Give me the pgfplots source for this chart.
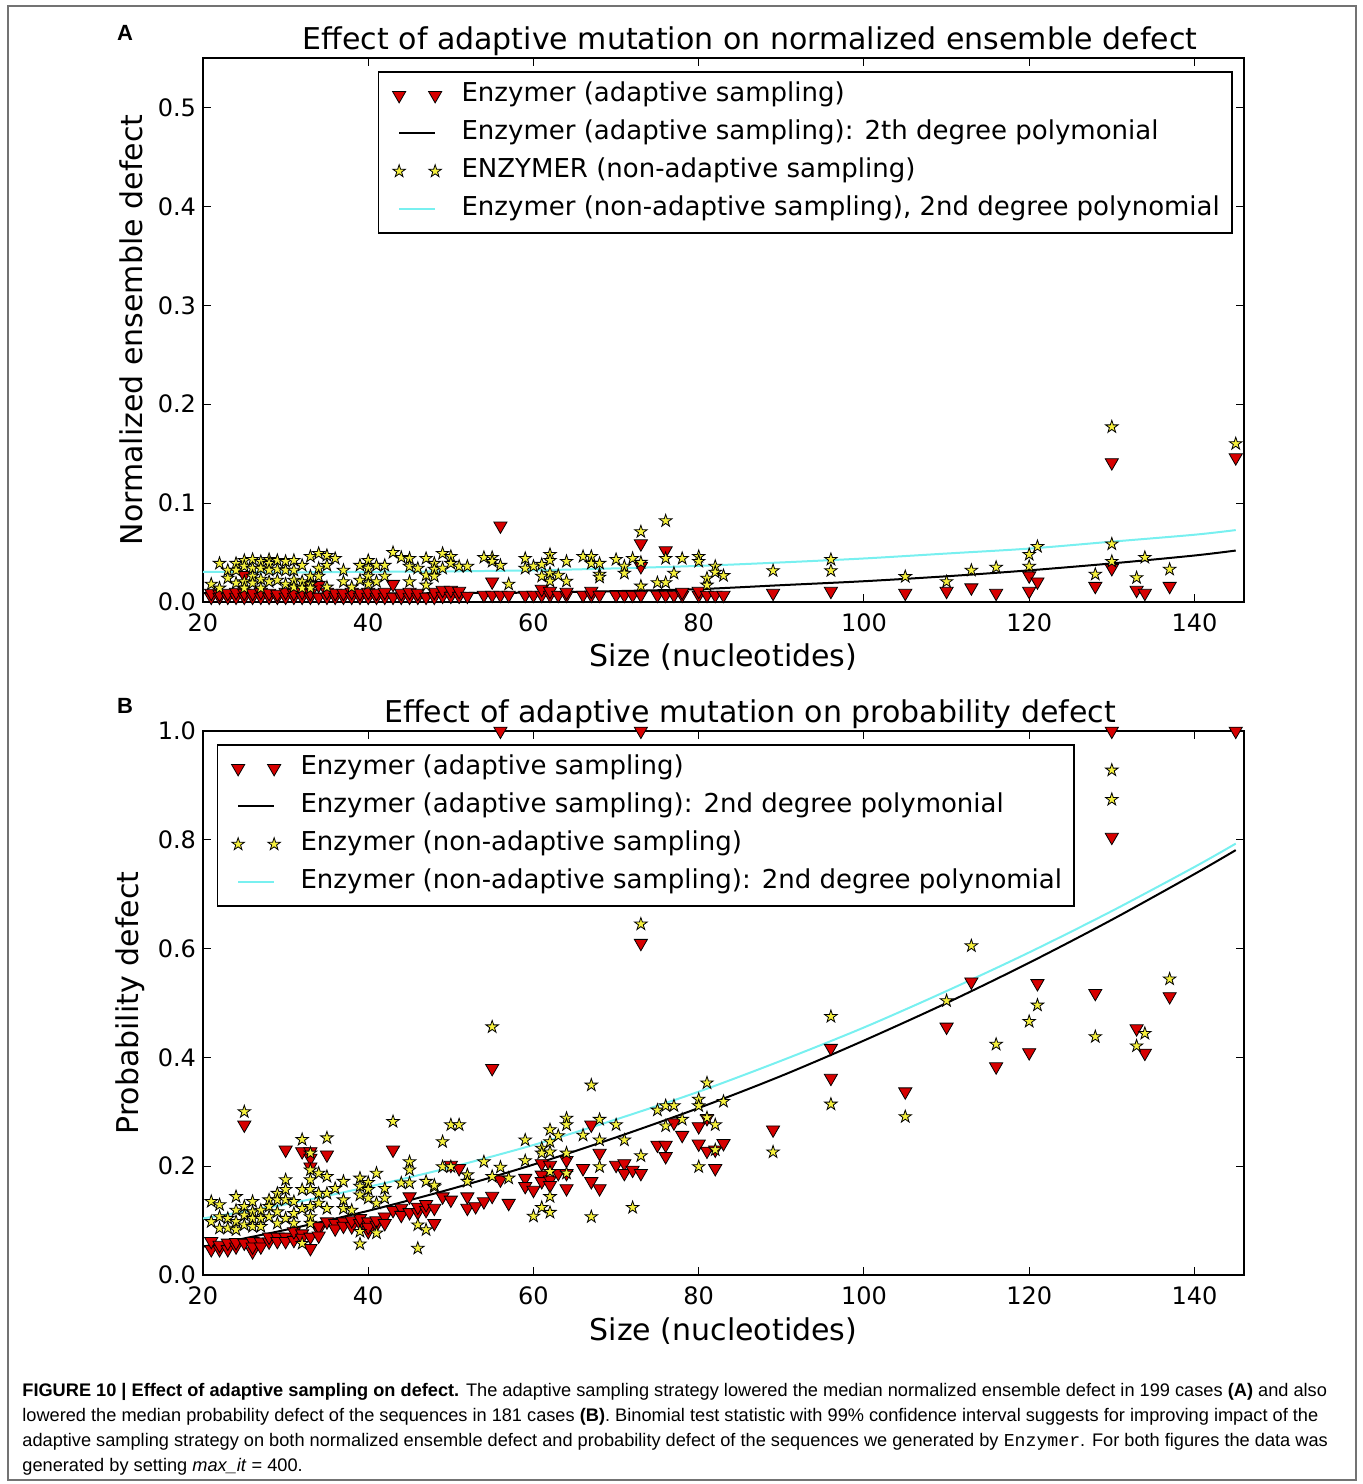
\documentclass[border=0pt]{standalone}
\usepackage{pgfplots}
\pgfplotsset{compat=1.18}
\usepackage{fontspec}
\setmainfont{DejaVu Sans}
\setmonofont{Liberation Mono}
\newfontfamily\capfont{Liberation Sans}

\definecolor{adred}{RGB}{215,0,0}
\definecolor{nayel}{RGB}{245,240,60}
\definecolor{fitcyan}{RGB}{120,240,240}

% filled five-pointed star, like matplotlib's '*'
\pgfdeclareplotmark{fstar}{%
  \pgfpathmoveto{\pgfqpointpolar{90}{\pgfplotmarksize}}%
  \pgfpathlineto{\pgfqpointpolar{126}{0.382\pgfplotmarksize}}%
  \pgfpathlineto{\pgfqpointpolar{162}{\pgfplotmarksize}}%
  \pgfpathlineto{\pgfqpointpolar{198}{0.382\pgfplotmarksize}}%
  \pgfpathlineto{\pgfqpointpolar{234}{\pgfplotmarksize}}%
  \pgfpathlineto{\pgfqpointpolar{270}{0.382\pgfplotmarksize}}%
  \pgfpathlineto{\pgfqpointpolar{306}{\pgfplotmarksize}}%
  \pgfpathlineto{\pgfqpointpolar{342}{0.382\pgfplotmarksize}}%
  \pgfpathlineto{\pgfqpointpolar{18}{\pgfplotmarksize}}%
  \pgfpathlineto{\pgfqpointpolar{54}{0.382\pgfplotmarksize}}%
  \pgfpathclose
  \pgfusepathqfillstroke
}

\pgfplotsset{
  common/.style={
    scale only axis, width=520.5pt, height=272pt,
    xmin=20, xmax=146, xtick={20,40,60,80,100,120,140},
    tick align=inside, major tick length=4pt,
    every tick/.style={black, line width=0.5pt},
    axis line style={line width=0.9pt},
    tick label style={font=\fontsize{12}{14}\selectfont},
    xticklabel style={yshift=-2.5pt},
    /pgf/number format/assume math mode=true,
    yticklabel style={/pgf/number format/.cd, fixed, fixed zerofill, precision=1},
    every axis title/.style={at={(0.5255,1)}, anchor=base, yshift=4.3pt,
      font=\fontsize{15}{18}\selectfont},
    xlabel={Size (nucleotides)},
    every axis x label/.style={at={(0.5,0)}, anchor=base, yshift=-32.5pt,
      font=\fontsize{15}{18}\selectfont},
    legend cell align=left,
    legend style={draw=black, line width=0.75pt, anchor=north west,
      font=\fontsize{13}{15}\selectfont, inner ysep=2.25pt, inner xsep=4pt,
      row sep=0pt,
      nodes={text height=9.6pt, text depth=3.1pt, inner ysep=3.15pt}},
  },
  adapt/.style={only marks, mark=triangle*, mark size=3.8pt,
    mark options={rotate=180, fill=adred, draw=black, line width=0.4pt},
    legend image code/.code={\draw plot coordinates {(0pt,0pt) (18pt,0pt)};
      \path (-5.7pt,0pt) (28.7pt,0pt);}},
  nonadapt/.style={only marks, mark=fstar, mark size=3.3pt,
    mark options={fill=nayel, draw=black, line width=0.4pt},
    legend image code/.code={\draw plot coordinates {(0pt,0pt) (18pt,0pt)};
      \path (-5.7pt,0pt) (28.7pt,0pt);}},
  fitline/.style={no marks, line width=1pt, smooth,
    legend image code/.code={\draw (0pt,0pt) -- (18pt,0pt);
      \path (-5.7pt,0pt) (28.7pt,0pt);}},
}

\begin{document}
\begin{tikzpicture}
\useasboundingbox (0,0) rectangle (681pt,742pt);
\draw[black!55, line width=0.7pt] (4pt,2pt) rectangle (678pt,739pt);

\node[font=\capfont\bfseries\fontsize{11}{13}\selectfont] at (62.5pt,725.5pt) {A};
\node[font=\capfont\bfseries\fontsize{11}{13}\selectfont] at (62.5pt,389pt) {B};

% ---------------- panel A ----------------
\begin{axis}[common,
  at={(101.5pt,441pt)}, anchor=south west,
  ymin=0, ymax=0.55, ytick={0,0.1,0.2,0.3,0.4,0.5},
  title={Effect of adaptive mutation on normalized ensemble defect},
  ylabel={Normalized ensemble defect},
  every axis y label/.style={at={(-0.0586,0.5)}, rotate=90, anchor=base,
    font=\fontsize{15}{18}\selectfont},
  legend style={at={(0.1681,0.976)}},
]
\addplot[adapt] coordinates {
(21,0.005)(21,0.009)(22,0.005)(22,0.008)(23,0.005)(23,0.009)(24,0.005)(24,0.010)
(25,0.005)(25,0.027)(25,0.009)(26,0.005)(26,0.009)(27,0.005)(27,0.010)(28,0.005)
(28,0.009)(29,0.005)(29,0.008)(30,0.005)(30,0.010)(31,0.005)(31,0.009)(32,0.005)
(32,0.010)(33,0.005)(33,0.017)(33,0.009)(34,0.005)(34,0.017)(35,0.005)(35,0.010)
(36,0.005)(36,0.009)(37,0.005)(37,0.009)(38,0.005)(38,0.010)(39,0.005)(39,0.009)
(40,0.005)(40,0.010)(41,0.005)(41,0.009)(42,0.005)(42,0.010)(43,0.005)(43,0.018)
(44,0.005)(44,0.009)(45,0.005)(45,0.010)(46,0.005)(46,0.009)(47,0.005)(48,0.005)
(48,0.010)(49,0.006)(49,0.012)(50,0.006)(50,0.012)(51,0.006)(51,0.011)(52,0.006)
(54,0.007)(55,0.007)(55,0.0205)(56,0.077)(56,0.007)(57,0.007)(59,0.007)(60,0.007)
(61,0.007)(61,0.013)(62,0.007)(62,0.011)(63,0.007)(64,0.007)(64,0.010)(66,0.007)
(67,0.007)(67,0.011)(68,0.007)(70,0.007)(71,0.007)(72,0.007)(73,0.007)(73,0.036)
(73,0.059)(75,0.007)(76,0.007)(76,0.052)(77,0.007)(78,0.007)(78,0.010)(80,0.007)
(80,0.011)(81,0.007)(82,0.007)(83,0.007)(89,0.009)(96,0.011)(105,0.009)(110,0.011)
(113,0.0145)(116,0.009)(120,0.0266)(120,0.011)(121,0.0205)(128,0.016)(130,0.034)
(130,0.141)(133,0.012)(134,0.009)(137,0.016)(145,0.146)
};
\addlegendentry{Enzymer (adaptive sampling)}
\addplot[fitline, black] coordinates {
(20,0.009)(30,0.0085)(40,0.0085)(50,0.009)(60,0.0095)(70,0.011)(80,0.013)
(90,0.017)(100,0.021)(110,0.026)(120,0.032)(130,0.039)(140,0.047)(145,0.052)
};
\addlegendentry{Enzymer (adaptive sampling): 2th degree polymonial}
\addplot[nonadapt] coordinates {
(21,0.018)(22,0.039)(22,0.014)(23,0.032)(23,0.024)(24,0.039)(24,0.032)(24,0.019)
(25,0.042)(25,0.036)(25,0.0205)(25,0.014)(26,0.043)(26,0.034)(26,0.026)(26,0.019)
(27,0.041)(27,0.034)(27,0.023)(27,0.014)(28,0.043)(28,0.039)(28,0.032)(28,0.0205)
(29,0.042)(29,0.033)(29,0.022)(30,0.041)(30,0.032)(30,0.018)(31,0.042)(31,0.032)
(31,0.022)(31,0.015)(32,0.037)(32,0.0205)(32,0.014)(33,0.046)(33,0.026)(33,0.018)
(33,0.014)(34,0.049)(34,0.034)(34,0.026)(35,0.047)(35,0.037)(35,0.015)(36,0.044)
(37,0.032)(37,0.0205)(38,0.015)(39,0.037)(39,0.022)(40,0.042)(40,0.034)(40,0.026)
(40,0.018)(41,0.037)(41,0.0205)(42,0.037)(42,0.026)(43,0.050)(44,0.045)(45,0.044)
(45,0.036)(45,0.0205)(46,0.034)(47,0.044)(47,0.027)(47,0.017)(48,0.039)(48,0.033)
(48,0.026)(49,0.049)(49,0.034)(50,0.046)(50,0.039)(51,0.036)(52,0.036)(54,0.045)
(55,0.045)(55,0.041)(56,0.037)(57,0.018)(59,0.044)(59,0.034)(60,0.036)(61,0.038)
(61,0.026)(62,0.048)(62,0.042)(62,0.029)(62,0.021)(63,0.027)(64,0.041)(64,0.021)
(66,0.046)(67,0.046)(67,0.039)(68,0.039)(68,0.028)(68,0.025)(70,0.043)(71,0.036)
(71,0.029)(72,0.044)(73,0.071)(73,0.040)(73,0.016)(75,0.0195)(76,0.082)(76,0.044)
(76,0.0195)(77,0.029)(78,0.044)(80,0.046)(80,0.041)(81,0.024)(81,0.017)(82,0.036)
(82,0.030)(83,0.0266)(89,0.0316)(96,0.043)(96,0.0316)(105,0.0256)(110,0.0205)
(113,0.032)(116,0.035)(120,0.036)(120,0.048)(121,0.056)(128,0.028)(130,0.041)
(130,0.0586)(130,0.177)(133,0.0245)(134,0.045)(137,0.033)(145,0.160)
};
\addlegendentry{ENZYMER (non-adaptive sampling)}
\addplot[fitline, fitcyan] coordinates {
(20,0.0305)(30,0.030)(40,0.0305)(50,0.031)(60,0.032)(70,0.034)(80,0.0365)
(90,0.040)(100,0.044)(110,0.049)(120,0.054)(130,0.061)(140,0.068)(145,0.0727)
};
\addlegendentry{Enzymer (non-adaptive sampling), 2nd degree polynomial}
\end{axis}

% ---------------- panel B ----------------
\begin{axis}[common,
  at={(101.5pt,104.5pt)}, anchor=south west,
  ymin=0, ymax=1, ytick={0,0.2,0.4,0.6,0.8,1.0},
  title={Effect of adaptive mutation on probability defect},
  ylabel={Probability defect},
  every axis y label/.style={at={(-0.0615,0.5)}, rotate=90, anchor=base,
    font=\fontsize{15}{18}\selectfont},
  legend style={at={(0.01345,0.976)}},
]
\addplot[adapt] coordinates {
(21,0.047)(21,0.062)(22,0.047)(22,0.055)(23,0.047)(23,0.059)(24,0.052)(24,0.060)
(25,0.276)(25,0.059)(26,0.043)(26,0.062)(26,0.052)(27,0.061)(27,0.052)(28,0.061)
(28,0.070)(29,0.070)(29,0.062)(30,0.230)(30,0.070)(30,0.062)(31,0.064)(31,0.080)
(32,0.227)(32,0.076)(32,0.068)(33,0.227)(33,0.049)(33,0.215)(33,0.199)(33,0.070)
(34,0.083)(34,0.089)(34,0.072)(35,0.221)(35,0.098)(36,0.095)(36,0.085)(37,0.098)
(37,0.090)(38,0.089)(38,0.100)(39,0.095)(39,0.104)(40,0.080)(40,0.098)(40,0.088)
(41,0.092)(41,0.100)(42,0.107)(42,0.095)(43,0.230)(43,0.119)(44,0.123)(44,0.110)
(45,0.144)(45,0.115)(46,0.115)(46,0.125)(47,0.119)(47,0.130)(48,0.095)(48,0.123)
(49,0.144)(50,0.202)(50,0.138)(51,0.196)(52,0.144)(52,0.123)(53,0.126)(54,0.135)
(55,0.145)(55,0.380)(56,0.175)(56,1.0)(57,0.132)(59,0.178)(59,0.163)(60,0.156)
(61,0.205)(61,0.184)(61,0.172)(62,0.202)(62,0.175)(62,0.165)(63,0.187)(64,0.211)
(64,0.187)(64,0.159)(66,0.196)(67,0.172)(67,0.276)(68,0.224)(68,0.159)(70,0.202)
(71,0.205)(71,0.187)(72,0.193)(73,0.187)(73,0.610)(73,1.0)(75,0.239)(76,0.239)
(76,0.218)(77,0.280)(78,0.257)(80,0.273)(80,0.241)(81,0.228)(81,0.288)(82,0.196)
(82,0.230)(83,0.242)(89,0.267)(96,0.417)(96,0.362)(105,0.337)(110,0.456)(113,0.539)
(116,0.383)(120,0.409)(121,0.536)(128,0.518)(130,0.805)(130,1.0)(133,0.453)
(134,0.408)(137,0.512)(145,1.0)
};
\addlegendentry{Enzymer (adaptive sampling)}
\addplot[fitline, black] coordinates {
(20,0.052)(30,0.083)(40,0.118)(50,0.158)(60,0.203)(70,0.253)(80,0.307)
(90,0.366)(100,0.431)(110,0.500)(120,0.574)(130,0.653)(140,0.737)(145,0.781)
};
\addlegendentry{Enzymer (adaptive sampling): 2nd degree polymonial}
\addplot[nonadapt] coordinates {
(21,0.135)(21,0.098)(22,0.129)(22,0.107)(22,0.086)(23,0.104)(23,0.086)(24,0.144)
(24,0.119)(24,0.098)(24,0.083)(25,0.300)(25,0.126)(25,0.110)(25,0.092)(26,0.135)
(26,0.116)(26,0.104)(26,0.089)(27,0.119)(27,0.104)(27,0.089)(28,0.138)(28,0.126)
(28,0.107)(29,0.150)(29,0.138)(29,0.116)(29,0.095)(30,0.175)(30,0.157)(30,0.138)
(30,0.104)(31,0.135)(31,0.113)(31,0.095)(32,0.249)(32,0.157)(32,0.122)(32,0.058)
(33,0.224)(33,0.193)(33,0.175)(33,0.157)(33,0.126)(33,0.107)(33,0.095)(34,0.187)
(34,0.150)(34,0.132)(35,0.252)(35,0.181)(35,0.150)(35,0.122)(36,0.159)(37,0.172)
(37,0.138)(37,0.122)(38,0.119)(39,0.178)(39,0.163)(39,0.147)(39,0.080)(39,0.057)
(40,0.170)(40,0.157)(40,0.141)(41,0.187)(41,0.132)(41,0.077)(42,0.159)(42,0.141)
(43,0.282)(44,0.169)(45,0.208)(45,0.193)(45,0.169)(46,0.092)(46,0.049)(47,0.172)
(47,0.083)(48,0.162)(48,0.165)(49,0.245)(49,0.199)(50,0.276)(50,0.199)(51,0.276)
(52,0.184)(52,0.172)(54,0.208)(55,0.456)(55,0.181)(56,0.198)(57,0.178)(59,0.248)
(59,0.210)(60,0.108)(61,0.124)(61,0.233)(61,0.224)(62,0.267)(62,0.245)(62,0.226)
(62,0.190)(62,0.144)(62,0.115)(63,0.256)(64,0.288)(64,0.276)(64,0.224)(64,0.187)
(66,0.257)(67,0.349)(67,0.107)(68,0.286)(68,0.248)(68,0.199)(70,0.276)(71,0.248)
(72,0.124)(73,0.645)(73,0.219)(75,0.303)(76,0.311)(76,0.274)(77,0.311)(78,0.286)
(80,0.323)(80,0.311)(80,0.199)(81,0.353)(81,0.289)(82,0.230)(82,0.276)(83,0.319)
(89,0.226)(96,0.475)(96,0.314)(105,0.291)(110,0.504)(113,0.605)(116,0.424)
(120,0.466)(121,0.496)(128,0.438)(130,0.928)(130,0.874)(133,0.421)(134,0.444)
(137,0.544)
};
\addlegendentry{Enzymer (non-adaptive sampling)}
\addplot[fitline, fitcyan] coordinates {
(20,0.104)(30,0.130)(40,0.162)(50,0.198)(60,0.239)(70,0.286)(80,0.337)
(90,0.394)(100,0.455)(110,0.522)(120,0.593)(130,0.669)(140,0.750)(145,0.793)
};
\addlegendentry{Enzymer (non-adaptive sampling): 2nd degree polynomial}
\end{axis}

% ---------------- caption ----------------
\node[anchor=base west, inner sep=0pt, align=left,
  font=\capfont\fontsize{9.1}{12.5}\selectfont] at (11pt,6pt) {%
\textbf{FIGURE 10 | Effect of adaptive sampling on defect.} The adaptive sampling strategy lowered the median normalized ensemble defect in 199 cases \textbf{(A)} and also\\
lowered the median probability defect of the sequences in 181 cases \textbf{(B)}. Binomial test statistic with 99\% confidence interval suggests for improving impact of the\\
adaptive sampling strategy on both normalized ensemble defect and probability defect of the sequences we generated by \texttt{Enzymer}. For both figures the data was\\
generated by setting \textit{max\_it} = 400.};
\end{tikzpicture}
\end{document}
